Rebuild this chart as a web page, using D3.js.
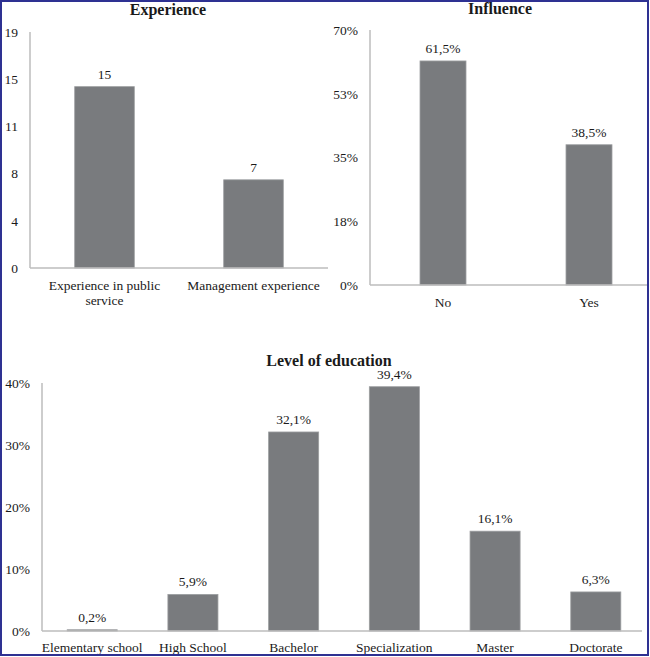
<html>
<head>
    <script src="https://d3js.org/d3.v7.min.js"></script>
    <style>
        body { margin: 0; background: #fff; }
        svg text { font-family: "Liberation Serif", "Times New Roman", Times, "DejaVu Serif", serif !important; fill: #1a1a1a; }
    </style>
</head>
<body>
    <svg id="chart" width="650" height="657" font-family="Liberation Serif, serif"></svg>
    <script>
        // data
        var expCategories = [["Experience in public", "service"], ["Management experience"]];
        var expValues = [14.6, 7.1];
        var expTicks = [0, 3.8, 7.6, 11.4, 15.2, 19];

        var infCategories = ["No", "Yes"];
        var infValues = [61.5, 38.5];
        var infTicks = [0, 17.5, 35, 52.5, 70];

        var eduCategories = ["Elementary school", "High School", "Bachelor", "Specialization", "Master", "Doctorate"];
        var eduValues = [0.2, 5.9, 32.1, 39.4, 16.1, 6.3];
        var eduTicks = [0, 10, 20, 30, 40];

        var barColor = "#797b7e", axisColor = "#bdbdbd";
        var serif = "'Liberation Serif', 'Times New Roman', Times, 'DejaVu Serif', serif";
        var svg = d3.select("#chart");

        function comma(v) { return d3.format(".1f")(v).replace(".", ","); }

        function drawPanel(opt) {
            var x = d3.scaleBand()
                .domain(d3.range(opt.values.length))
                .range([opt.left, opt.right])
                .paddingInner(opt.padIn)
                .paddingOuter(opt.padOut);

            var y = d3.scaleLinear()
                .domain([0, opt.max])
                .range([opt.bottom, opt.top]);

            var g = svg.append("g");

            // y axis labels, no tick marks
            var ax = d3.axisLeft(y)
                .tickValues(opt.ticks)
                .tickSize(0)
                .tickPadding(12)
                .tickFormat(opt.tickFormat);
            var axG = g.append("g")
                .attr("transform", "translate(" + opt.left + ",0)")
                .call(ax)
                .attr("font-family", serif)
                .attr("font-size", 13.5);
            axG.select(".domain").remove();
            axG.selectAll("text").attr("fill", "#1a1a1a");

            g.append("line")
                .attr("x1", opt.left).attr("x2", opt.left)
                .attr("y1", y(opt.max)).attr("y2", y(0))
                .attr("stroke", axisColor).attr("stroke-width", 1.5);

            g.selectAll("rect.bar")
                .data(opt.values)
                .enter()
                .append("rect")
                .attr("class", "bar")
                .attr("x", (d, i) => x(i))
                .attr("y", (d) => y(d))
                .attr("width", x.bandwidth())
                .attr("height", (d) => y(0) - y(d))
                .attr("fill", barColor)
                .attr("stroke", "#9c9ea0")
                .attr("stroke-width", 0.8);

            g.append("line")
                .attr("x1", opt.left).attr("x2", opt.lineEnd)
                .attr("y1", y(0)).attr("y2", y(0))
                .attr("stroke", axisColor).attr("stroke-width", 1.5);

            g.selectAll("text.val")
                .data(opt.values)
                .enter()
                .append("text")
                .attr("class", "val")
                .attr("x", (d, i) => x(i) + x.bandwidth() / 2)
                .attr("y", (d) => y(d) - 8)
                .attr("text-anchor", "middle")
                .attr("font-family", serif)
                .attr("font-size", 13.5)
                .text(opt.valFormat);

            g.selectAll("text.cat")
                .data(opt.categories)
                .enter()
                .append("text")
                .attr("class", "cat")
                .attr("x", (d, i) => x(i) + x.bandwidth() / 2)
                .attr("y", opt.catY)
                .attr("text-anchor", "middle")
                .attr("font-family", serif)
                .attr("font-size", 13.5)
                .each(function (d) {
                    var lines = Array.isArray(d) ? d : [d];
                    var t = d3.select(this);
                    lines.forEach(function (l, k) {
                        t.append("tspan")
                            .attr("x", t.attr("x"))
                            .attr("dy", k == 0 ? 0 : 15)
                            .text(l);
                    });
                });

            g.append("text")
                .attr("x", opt.titleX)
                .attr("y", opt.titleY)
                .attr("text-anchor", "middle")
                .attr("font-family", serif)
                .attr("font-size", 16)
                .attr("font-weight", "bold")
                .text(opt.title);
        }

        drawPanel({
            title: "Experience", titleX: 168, titleY: 15,
            categories: expCategories, values: expValues, max: 19, ticks: expTicks,
            tickFormat: (d) => Math.round(d), valFormat: (d) => d3.format(".0f")(d),
            left: 30, right: 328, lineEnd: 328, top: 32, bottom: 268,
            padIn: 0.6, padOut: 0.3, catY: 289.5
        });

        drawPanel({
            title: "Influence", titleX: 500, titleY: 14,
            categories: infCategories, values: infValues, max: 70, ticks: infTicks,
            tickFormat: (d) => Math.round(d) + "%", valFormat: (d) => comma(d) + "%",
            left: 370, right: 662, lineEnd: 647, top: 30, bottom: 285,
            padIn: 0.685, padOut: 0.3425, catY: 306.5
        });

        drawPanel({
            title: "Level of education", titleX: 329, titleY: 366,
            categories: eduCategories, values: eduValues, max: 40, ticks: eduTicks,
            tickFormat: (d) => d + "%", valFormat: (d) => comma(d) + "%",
            left: 42, right: 646, lineEnd: 642, top: 383, bottom: 631,
            padIn: 0.503, padOut: 0.25, catY: 651.5
        });

        // outer frame
        svg.append("rect")
            .attr("x", 1).attr("y", 1)
            .attr("width", 647).attr("height", 654)
            .attr("fill", "none")
            .attr("stroke", "#2e3192")
            .attr("stroke-width", 2);
    </script>
</body>
</html>
